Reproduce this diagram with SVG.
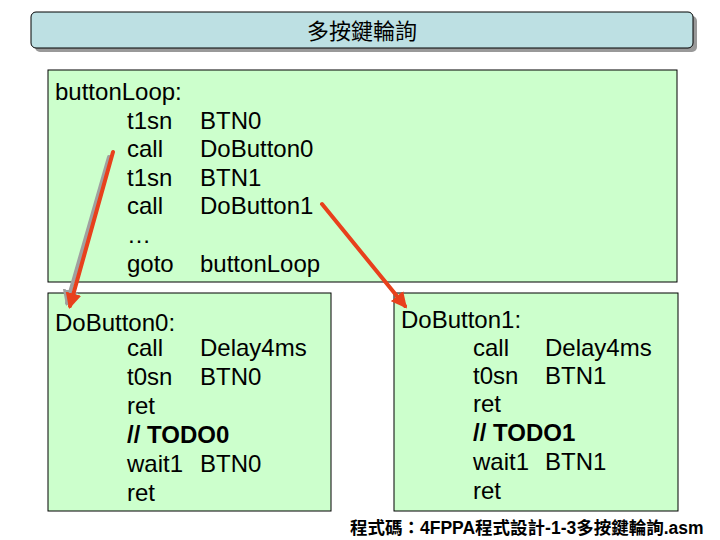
<svg xmlns="http://www.w3.org/2000/svg" width="720" height="540" viewBox="0 0 720 540">
<defs>
<style>
text{font-family:"Liberation Sans",Arial,"Noto Sans CJK TC",sans-serif;font-size:24px;fill:#000}
.box{fill:#ccffcc;stroke:#000;stroke-width:1}
.b{font-weight:bold}
</style>
<marker id="ah" viewBox="0 0 10 10" refX="8" refY="5" markerWidth="4" markerHeight="4" orient="auto"><path d="M0,0L10,5L0,10z" fill="#e8401c"/></marker>
<marker id="ahg" viewBox="0 0 10 10" refX="8" refY="5" markerWidth="4" markerHeight="4" orient="auto"><path d="M0,0L10,5L0,10z" fill="#a0a0a0"/></marker>
</defs>
<rect width="720" height="540" fill="#fff"/>
<g id="title">
<rect x="35" y="16" width="662" height="36" rx="5" fill="#999"/>
<rect x="31" y="12" width="662" height="36" rx="5" fill="#bde0e3" stroke="#000"/>
<text x="362" y="39" text-anchor="middle" style="font-size:22px">多按鍵輪詢</text>
</g>
<g id="loop">
<rect class="box" x="48" y="70" width="629" height="212"/>
<text x="55" y="100">buttonLoop:</text>
<text x="127" y="129">t1sn</text><text x="200" y="129">BTN0</text>
<text x="127" y="157">call</text><text x="200" y="157">DoButton0</text>
<text x="127" y="186">t1sn</text><text x="200" y="186">BTN1</text>
<text x="127" y="214">call</text><text x="200" y="214">DoButton1</text>
<text x="127" y="243">…</text>
<text x="127" y="272">goto</text><text x="200" y="272">buttonLoop</text>
</g>
<g id="do0">
<rect class="box" x="48" y="293" width="283" height="218"/>
<text x="55" y="331">DoButton0:</text>
<text x="127" y="356">call</text><text x="200" y="356">Delay4ms</text>
<text x="127" y="385">t0sn</text><text x="200" y="385">BTN0</text>
<text x="127" y="414">ret</text>
<text x="127" y="443" class="b">// TODO0</text>
<text x="127" y="472">wait1</text><text x="200" y="472">BTN0</text>
<text x="127" y="501">ret</text>
</g>
<g id="do1">
<rect class="box" x="394" y="293" width="284" height="218"/>
<text x="401" y="328">DoButton1:</text>
<text x="473" y="356">call</text><text x="545" y="356">Delay4ms</text>
<text x="473" y="384">t0sn</text><text x="545" y="384">BTN1</text>
<text x="473" y="412">ret</text>
<text x="473" y="441" class="b">// TODO1</text>
<text x="473" y="470">wait1</text><text x="545" y="470">BTN1</text>
<text x="473" y="499">ret</text>
</g>
<g id="connectors" fill="none" stroke-linecap="round">
<line x1="109" y1="157" x2="67" y2="303" stroke="#a0a0a0" stroke-width="4" marker-end="url(#ahg)"/>
<line x1="113" y1="152" x2="70" y2="306" stroke="#e8401c" stroke-width="4" marker-end="url(#ah)"/>
<line x1="322" y1="204" x2="405" y2="306" stroke="#e8401c" stroke-width="4" marker-end="url(#ah)"/>
</g>
<text x="350" y="534" style="font-size:17.5px" class="b">程式碼：4FPPA程式設計-1-3多按鍵輪詢.asm</text>
</svg>
